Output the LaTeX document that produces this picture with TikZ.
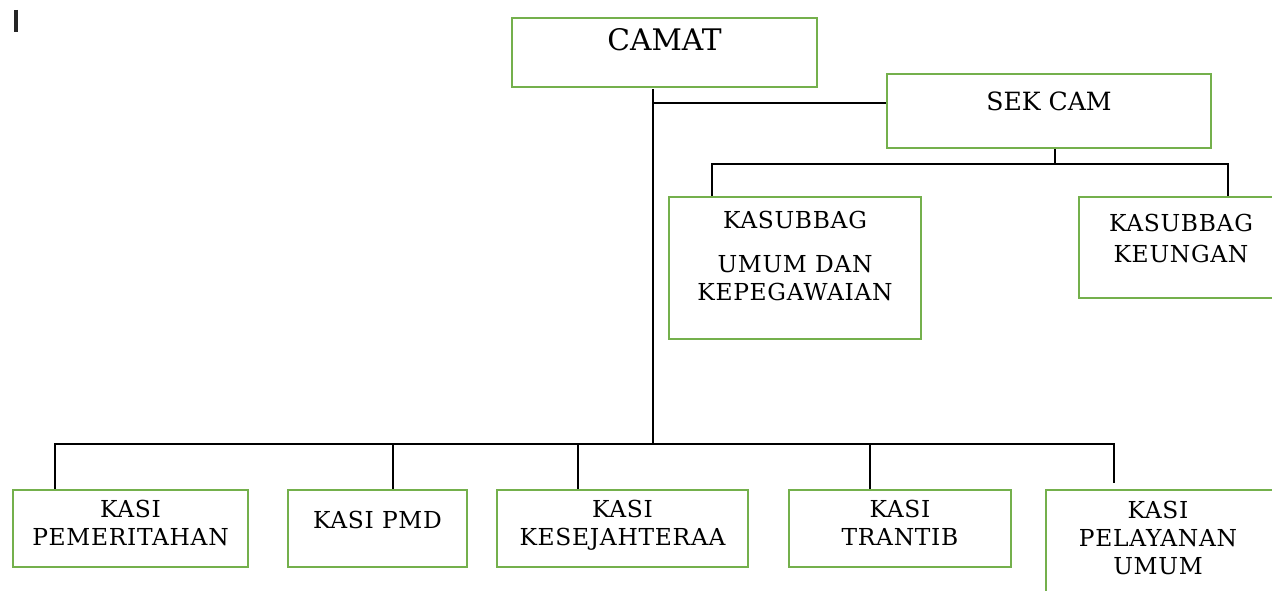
\documentclass[tikz,border=0pt]{standalone}
\usepackage{fontspec}
\setmainfont{DejaVu Serif}
\newfontfamily\boxfont{DejaVu Serif}[LetterSpace=3]
\usetikzlibrary{positioning,fit,calc}
\definecolor{boxgreen}{HTML}{74B04C}

\tikzset{
  unit/.style={draw=boxgreen, line width=1.6pt, inner sep=0pt, rectangle},
  lbl/.style={anchor=north, inner sep=0pt, align=center,
              font=\boxfont\fontsize{13.3}{16}\selectfont},
  link/.style={draw=black, line width=1.3pt},
}

\begin{document}
\begin{tikzpicture}[x=0.02cm,y=-0.02cm]
  \useasboundingbox (0,0) rectangle (1272,591);

  \draw[line width=2.2pt, black!85] (16,10) -- (16,32);

  \node[unit, fit={(512,18) (817,87)}]    (camat)    {};
  \node[unit, fit={(887,74) (1211,148)}]  (sekcam)   {};
  \node[unit, fit={(669,197) (921,339)}]  (umum)     {};
  \node[unit, fit={(1079,197) (1290,298)}] (keuangan) {};
  \node[unit, fit={(13,490) (248,567)}]   (pem)      {};
  \node[unit, fit={(288,490) (467,567)}]  (pmd)      {};
  \node[unit, fit={(497,490) (748,567)}]  (kesej)    {};
  \node[unit, fit={(789,490) (1011,567)}] (trantib)  {};
  \node[unit, fit={(1046,490) (1290,610)}] (pelayanan) {};

  \node[lbl, font=\fontsize{16.9}{20}\selectfont] (tcamat) at ($(camat.north)+(0,12)$) {CAMAT};
  \node[lbl, font=\fontsize{14.3}{18}\selectfont] (tsekcam) at ($(sekcam.north)+(0,19)$) {SEK CAM};
  \node[lbl] (tumum) at ($(umum.north)+(0,15)$) {KASUBBAG\\[9pt]UMUM DAN\\KEPEGAWAIAN};
  \node[lbl] (tkeuangan) at (1181,214) {KASUBBAG\\[1.7pt]KEUNGAN};
  \node[lbl] (tpem) at ($(pem.north)+(0,11)$) {KASI\\PEMERITAHAN};
  \node[lbl] (tpmd) at ($(pmd.north)+(0,22)$) {KASI PMD};
  \node[lbl] (tkesej) at ($(kesej.north)+(0,11)$) {KASI\\KESEJAHTERAA};
  \node[lbl] (ttrantib) at ($(trantib.north)+(0,11)$) {KASI\\TRANTIB};
  \node[lbl] (tpelayanan) at (1158,501) {KASI\\PELAYANAN\\UMUM};

  \coordinate (top) at (653,89);
  \coordinate (hub) at (653,444);
  \coordinate (sekjoin) at (653,103);
  \coordinate (subhub) at (1055,164);
  \coordinate (ua) at (712,164);
  \coordinate (ub) at (1228,164);
  \coordinate (k1) at (55,444);
  \coordinate (k2) at (393,444);
  \coordinate (k3) at (578,444);
  \coordinate (k4) at (870,444);
  \coordinate (k5) at (1114,444);

  \draw[link] (top) -- (hub);
  \draw[link] (sekjoin) -- (sekjoin -| sekcam.west);
  \draw[link] (sekcam.south -| subhub) -- (subhub);
  \draw[link] (ua |- umum.north) -- (ua) -- (ub) -- (ub |- keuangan.north);
  \draw[link] (k1 |- pem.north) -- (k1) -- (k5) -- ++(0,39);
  \foreach \k/\b in {k2/pmd,k3/kesej,k4/trantib}
    \draw[link] (\k) -- (\k |- \b.north);
\end{tikzpicture}
\end{document}
